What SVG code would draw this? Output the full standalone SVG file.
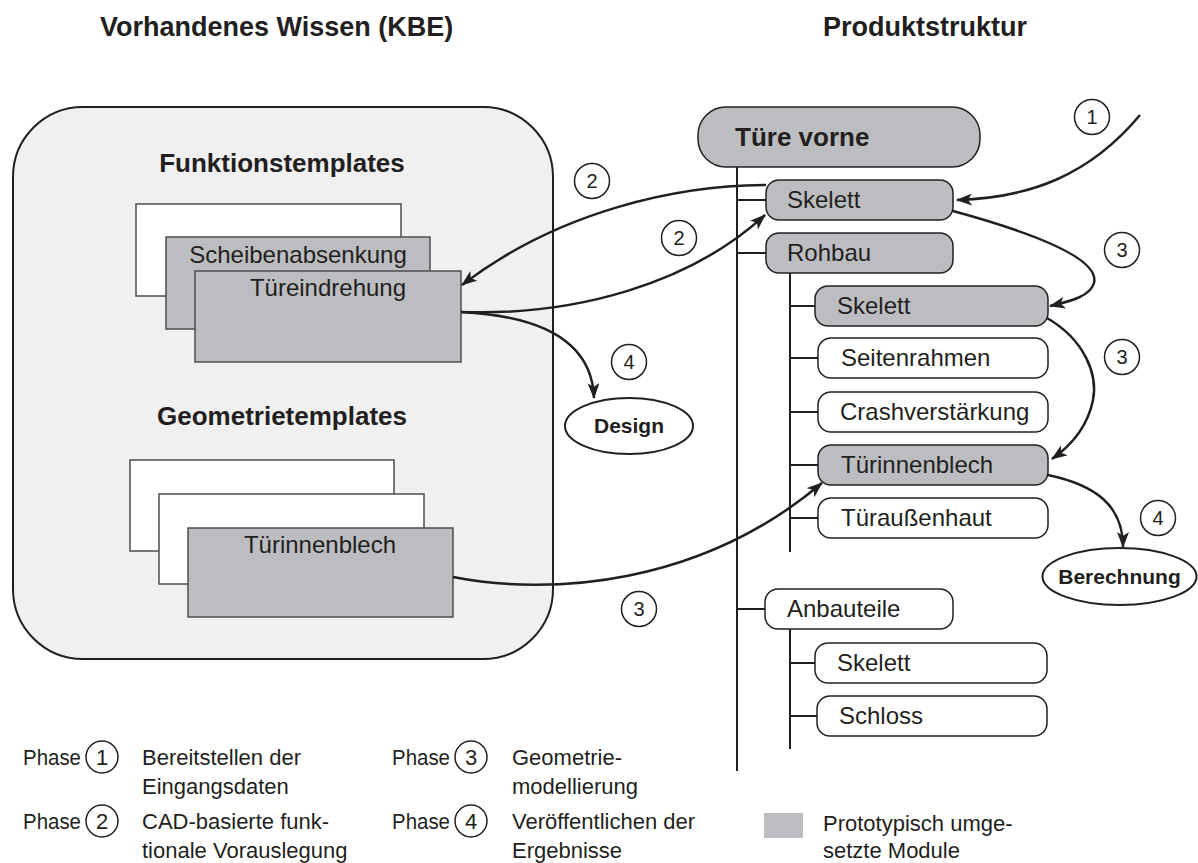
<svg xmlns="http://www.w3.org/2000/svg" width="1198" height="863" viewBox="0 0 1198 863">
<defs>
<marker id="ah" markerWidth="16" markerHeight="12" refX="15" refY="6" orient="auto" markerUnits="userSpaceOnUse">
<path d="M0,0 L16,6 L0,12 L4,6 Z" fill="#231f20"/>
</marker>
</defs>
<style>
text{font-family:"Liberation Sans",Arial,sans-serif;fill:#231f20}
.h{font-weight:bold;font-size:27px}
.sh{font-weight:bold;font-size:26px;text-anchor:middle}
.tl{font-size:24px;text-anchor:middle}
.nl{font-size:24px}
.bl{font-weight:bold;font-size:21px;text-anchor:middle}
.lg{font-size:22px}
.num{font-size:20px;text-anchor:middle}
.gray{fill:#bcbdc0;stroke:#231f20;stroke-width:1.5}
.white{fill:#fff;stroke:#231f20;stroke-width:1.5}
.tpw{fill:#fff;stroke:#4d4d4f;stroke-width:1.5}
.tpg{fill:#bcbdc0;stroke:#4d4d4f;stroke-width:1.5}
.tree{stroke:#231f20;stroke-width:2;fill:none}
.arr{stroke:#231f20;stroke-width:2.5;fill:none;marker-end:url(#ah)}
.circ{fill:#fff;stroke:#231f20;stroke-width:1.5}
</style>
<rect width="1198" height="863" fill="#fff"/>

<text class="h" x="100" y="36">Vorhandenes Wissen (KBE)</text>
<text class="h" x="925" y="36" text-anchor="middle">Produktstruktur</text>

<g id="kbe">
<rect x="13" y="107" width="540" height="552" rx="70" ry="70" fill="#f0f0f0" stroke="#231f20" stroke-width="2"/>
<text class="sh" x="282" y="172">Funktionstemplates</text>
<text class="sh" x="282" y="425">Geometrietemplates</text>
</g>

<g id="funktionstemplates">
<rect class="tpw" x="136" y="204" width="265" height="92"/>
<rect class="tpg" x="166" y="237" width="264" height="92"/>
<text class="tl" x="298" y="263">Scheibenabsenkung</text>
<rect class="tpg" x="195" y="271" width="266" height="91"/>
<text class="tl" x="328" y="296">Türeindrehung</text>
</g>

<g id="geometrietemplates">
<rect class="tpw" x="130" y="460" width="264" height="91"/>
<rect class="tpw" x="159" y="494" width="265" height="90"/>
<rect class="tpg" x="188" y="528" width="265" height="89"/>
<text class="tl" x="320" y="553">Türinnenblech</text>
</g>

<g id="tree-lines">
<line class="tree" x1="737" y1="167" x2="737" y2="771"/>
<line class="tree" x1="737" y1="200" x2="766" y2="200"/>
<line class="tree" x1="737" y1="253" x2="766" y2="253"/>
<line class="tree" x1="737" y1="609" x2="765" y2="609"/>
<line class="tree" x1="790" y1="273" x2="790" y2="552"/>
<line class="tree" x1="790" y1="306" x2="815" y2="306"/>
<line class="tree" x1="790" y1="358" x2="818" y2="358"/>
<line class="tree" x1="790" y1="412" x2="818" y2="412"/>
<line class="tree" x1="790" y1="465" x2="818" y2="465"/>
<line class="tree" x1="790" y1="518" x2="818" y2="518"/>
<line class="tree" x1="790" y1="629" x2="790" y2="749"/>
<line class="tree" x1="790" y1="663" x2="815" y2="663"/>
<line class="tree" x1="790" y1="716" x2="817" y2="716"/>
</g>

<g id="tuere-vorne">
<rect class="gray" x="698" y="107" width="282" height="60" rx="28"/>
<text x="735" y="146" font-weight="bold" font-size="26">Türe vorne</text>
</g>
<g id="skelett-1">
<rect class="gray" x="766" y="180" width="187" height="40" rx="13"/>
<text class="nl" x="787" y="208">Skelett</text>
</g>
<g id="rohbau">
<rect class="gray" x="766" y="233" width="187" height="40" rx="13"/>
<text class="nl" x="787" y="261">Rohbau</text>
</g>
<g id="skelett-2">
<rect class="gray" x="815" y="286" width="233" height="40" rx="13"/>
<text class="nl" x="837" y="314">Skelett</text>
</g>
<g id="seitenrahmen">
<rect class="white" x="818" y="338" width="230" height="40" rx="13"/>
<text class="nl" x="841" y="366">Seitenrahmen</text>
</g>
<g id="crashverstaerkung">
<rect class="white" x="818" y="392" width="230" height="40" rx="13"/>
<text class="nl" x="840" y="420">Crashverstärkung</text>
</g>
<g id="tuerinnenblech">
<rect class="gray" x="818" y="445" width="230" height="40" rx="13"/>
<text class="nl" x="841" y="473">Türinnenblech</text>
</g>
<g id="tueraussenhaut">
<rect class="white" x="818" y="498" width="230" height="40" rx="13"/>
<text class="nl" x="841" y="526">Türaußenhaut</text>
</g>
<g id="anbauteile">
<rect class="white" x="765" y="589" width="188" height="40" rx="13"/>
<text class="nl" x="787" y="617">Anbauteile</text>
</g>
<g id="skelett-3">
<rect class="white" x="815" y="643" width="232" height="40" rx="13"/>
<text class="nl" x="837" y="671">Skelett</text>
</g>
<g id="schloss">
<rect class="white" x="817" y="696" width="230" height="40" rx="13"/>
<text class="nl" x="839" y="724">Schloss</text>
</g>

<g id="design">
<ellipse cx="629" cy="426" rx="64" ry="28" fill="#fff" stroke="#231f20" stroke-width="2"/>
<text class="bl" x="629" y="433">Design</text>
</g>
<g id="berechnung">
<ellipse cx="1119.5" cy="576.5" rx="77" ry="28.5" fill="#fff" stroke="#231f20" stroke-width="2"/>
<text class="bl" x="1119.5" y="584">Berechnung</text>
</g>

<g id="connectors">
<path class="arr" d="M1140,115 C1090,175 1030,198 957,200"/>
<path class="arr" d="M953,211 C1030,232 1100,258 1094,283 C1090,296 1072,301 1050,306"/>
<path class="arr" d="M1047,318 C1085,340 1098,375 1093,400 C1088,425 1072,445 1052,459"/>
<path class="arr" d="M1048,475 C1095,485 1123,505 1123,547"/>
<path class="arr" d="M766,185 C680,185 560,210 462,285"/>
<path class="arr" d="M461,312 C575,316 690,284 765,215"/>
<path class="arr" d="M461,312 C540,316 592,340 594,398"/>
<path class="arr" d="M453,577 C550,596 700,586 822,483"/>
</g>

<g id="phase-labels">
<circle class="circ" cx="1092" cy="117" r="17.5"/><text class="num" x="1092" y="124">1</text>
<circle class="circ" cx="592" cy="181" r="17.5"/><text class="num" x="592" y="188">2</text>
<circle class="circ" cx="679" cy="238" r="17.5"/><text class="num" x="679" y="245">2</text>
<circle class="circ" cx="1122" cy="250" r="17.5"/><text class="num" x="1122" y="257">3</text>
<circle class="circ" cx="1122" cy="357" r="17.5"/><text class="num" x="1122" y="364">3</text>
<circle class="circ" cx="629" cy="362" r="17.5"/><text class="num" x="629" y="369">4</text>
<circle class="circ" cx="1158" cy="518" r="17.5"/><text class="num" x="1158" y="525">4</text>
<circle class="circ" cx="639" cy="609" r="17.5"/><text class="num" x="639" y="616">3</text>
</g>

<g id="legend">
<text class="lg" x="23" y="765" textLength="58" lengthAdjust="spacingAndGlyphs">Phase</text>
<circle class="circ" cx="102" cy="757" r="16"/><text class="lg" x="102" y="765" text-anchor="middle">1</text>
<text class="lg" x="142" y="765">Bereitstellen der</text>
<text class="lg" x="142" y="794">Eingangsdaten</text>
<text class="lg" x="23" y="829" textLength="58" lengthAdjust="spacingAndGlyphs">Phase</text>
<circle class="circ" cx="102" cy="821" r="16"/><text class="lg" x="102" y="829" text-anchor="middle">2</text>
<text class="lg" x="142" y="829">CAD-basierte funk-</text>
<text class="lg" x="142" y="858">tionale Vorauslegung</text>
<text class="lg" x="392" y="765" textLength="58" lengthAdjust="spacingAndGlyphs">Phase</text>
<circle class="circ" cx="471" cy="757" r="16"/><text class="lg" x="471" y="765" text-anchor="middle">3</text>
<text class="lg" x="512" y="765">Geometrie-</text>
<text class="lg" x="512" y="794">modellierung</text>
<text class="lg" x="392" y="829" textLength="58" lengthAdjust="spacingAndGlyphs">Phase</text>
<circle class="circ" cx="471" cy="821" r="16"/><text class="lg" x="471" y="829" text-anchor="middle">4</text>
<text class="lg" x="512" y="829">Veröffentlichen der</text>
<text class="lg" x="512" y="858">Ergebnisse</text>
<rect x="764" y="813" width="39" height="25" fill="#bcbdc0"/>
<text class="lg" x="823" y="831">Prototypisch umge-</text>
<text class="lg" x="823" y="858">setzte Module</text>
</g>
</svg>
